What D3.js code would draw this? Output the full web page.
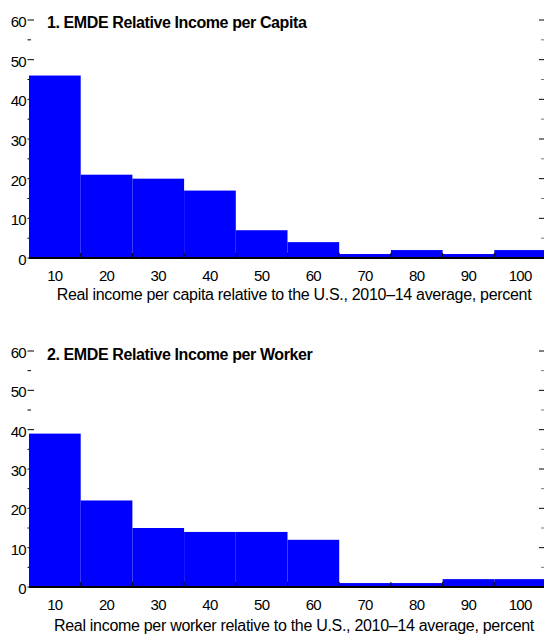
<!DOCTYPE html>
<html>
<head>
<meta charset="utf-8">
<script src="https://cdn.jsdelivr.net/npm/d3@7"></script>
<style>
  body { margin: 0; background: #fff; }
  svg { display: block; font-family: "Liberation Sans", Arial, sans-serif; }
</style>
</head>
<body>
<svg id="chart" width="544" height="641"></svg>
<script>
// bin centres (percent of U.S. level) and country counts per bin
const binCenters = [10, 20, 30, 40, 50, 60, 70, 80, 90, 100];
const perCapita = [46, 21, 20, 17, 7, 4, 1, 2, 1, 2];
const perWorker = [39, 22, 15, 14, 14, 12, 1, 1, 2, 2];
const yTicks = [0, 10, 20, 30, 40, 50, 60];
const titles = ["1. EMDE Relative Income per Capita", "2. EMDE Relative Income per Worker"];
const xLabels = [
  "Real income per capita relative to the U.S., 2010\u201314 average, percent",
  "Real income per worker relative to the U.S., 2010\u201314 average, percent"
];

const svg = d3.select("#chart");
const binW = 10;

function drawPanel(values, title, xLabel, top, bottom, titleY, tickY, labelY) {
  const g = svg.append("g");
  const x = d3.scaleLinear().domain([5, 105]).range([29, 546]);
  const y = d3.scaleLinear().domain([0, 60]).range([bottom, top]);
  const minor = d3.range(0, 61, 5);

  // left ticks (drawn under the bars)
  g.selectAll(".lt").data(minor).join("line")
    .attr("x1", 27.5).attr("x2", d => d % 10 === 0 ? 34 : 31)
    .attr("y1", d => y(d)).attr("y2", d => y(d))
    .attr("stroke", "#000").attr("stroke-width", 1);

  // right ticks
  g.selectAll(".rt").data(minor.filter(d => d > 0)).join("line")
    .attr("x1", 544).attr("x2", d => d % 10 === 0 ? 539 : 541)
    .attr("y1", d => y(d)).attr("y2", d => y(d))
    .attr("stroke", d => d % 10 === 0 ? "#000" : "#777").attr("stroke-width", 1);

  g.selectAll("rect").data(values).join("rect")
    .attr("x", (d, i) => x(binCenters[i] - binW / 2))
    .attr("width", (d, i) => x(binCenters[i] + binW / 2) - x(binCenters[i] - binW / 2))
    .attr("y", d => y(d))
    .attr("height", d => y(0) - y(d))
    .attr("fill", "#0000ff");

  // baseline
  g.append("line")
    .attr("x1", 29).attr("x2", 544)
    .attr("y1", y(0)).attr("y2", y(0))
    .attr("stroke", "#000").attr("stroke-width", 2);

  // bin edge ticks pointing up
  const edges = binCenters.slice(0, -1).map(c => c + binW / 2);
  g.selectAll(".bt").data(edges).join("line")
    .attr("x1", d => x(d)).attr("x2", d => x(d))
    .attr("y1", y(0)).attr("y2", y(0) - 5)
    .attr("stroke", "#000").attr("stroke-width", 1);

  g.selectAll(".yl").data(yTicks).join("text")
    .attr("x", 26).attr("y", d => y(d) + 7)
    .attr("text-anchor", "end")
    .attr("font-size", 15).attr("letter-spacing", -0.7)
    .text(d => d);

  g.selectAll(".xl").data(binCenters).join("text")
    .attr("x", d => x(d)).attr("y", tickY)
    .attr("text-anchor", "middle")
    .attr("font-size", 15).attr("letter-spacing", -0.7)
    .text(d => d);

  g.append("text")
    .attr("x", 47).attr("y", titleY)
    .attr("font-size", 16).attr("font-weight", "bold").attr("letter-spacing", -0.4)
    .text(title);

  g.append("text")
    .attr("x", 294).attr("y", labelY)
    .attr("text-anchor", "middle")
    .attr("font-size", 16).attr("letter-spacing", -0.3)
    .text(xLabel);
}

drawPanel(perCapita, titles[0], xLabels[0], 20, 258, 28, 281, 300);
drawPanel(perWorker, titles[1], xLabels[1], 351, 587, 360, 610, 631);
</script>
</body>
</html>
